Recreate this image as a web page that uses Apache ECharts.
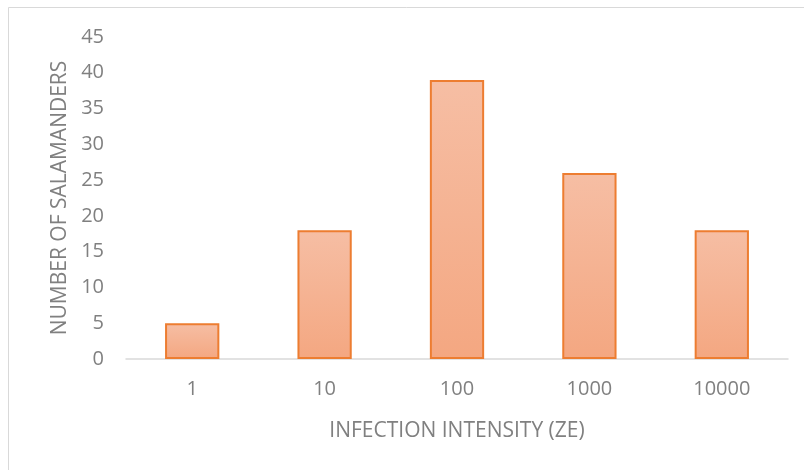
<!DOCTYPE html>
<html>
<head>
<meta charset="utf-8">
<script src="https://cdn.jsdelivr.net/npm/echarts@6/dist/echarts.min.js"></script>
<style>
  html, body { margin: 0; padding: 0; background: #fff; }
  #chart { width: 804px; height: 470px; }
</style>
</head>
<body>
<div id="chart"></div>
<script>
// Infection intensity classes (Bd zoospore equivalents) and salamander counts
const categories = ['1', '10', '100', '1000', '10000'];
const counts = [5, 18, 39, 26, 18];
const yTicks = { min: 0, max: 45, interval: 5 };

const textColor = '#808080';
const font = '"Open Sans", "Liberation Sans", sans-serif';

const chart = echarts.init(document.getElementById('chart'), null, { renderer: 'canvas' });
chart.setOption({
  backgroundColor: '#ffffff',
  animation: false,
  graphic: [{
    type: 'rect',
    shape: { x: 8.5, y: 7.5, width: 900, height: 600 },
    style: { fill: 'none', stroke: '#d9d9d9', lineWidth: 1 },
    silent: true
  }],
  grid: { left: 126, right: 16, top: 37, bottom: 111 },
  xAxis: {
    type: 'category',
    data: categories,
    name: 'INFECTION INTENSITY (ZE)',
    nameLocation: 'middle',
    nameGap: 62,
    nameTextStyle: { color: textColor, fontSize: 21, fontFamily: font },
    axisLine: { lineStyle: { color: '#d9d9d9', width: 1.5 } },
    axisTick: { show: false },
    axisLabel: { color: textColor, fontSize: 20, fontFamily: font, margin: 20 }
  },
  yAxis: {
    type: 'value',
    min: yTicks.min, max: yTicks.max, interval: yTicks.interval,
    name: 'NUMBER OF SALAMANDERS',
    nameLocation: 'middle',
    nameGap: 54,
    nameTextStyle: { color: textColor, fontSize: 21, fontFamily: font },
    axisLine: { show: false },
    axisTick: { show: false },
    splitLine: { show: false },
    axisLabel: { color: textColor, fontSize: 20, fontFamily: font, margin: 22 }
  },
  series: [{
    type: 'bar',
    data: counts,
    barWidth: '41%',
    itemStyle: {
      color: new echarts.graphic.LinearGradient(0, 0, 0, 1, [
        { offset: 0, color: '#f6bea4' },
        { offset: 1, color: '#f4a781' }
      ]),
      borderColor: '#ed7d31',
      borderWidth: 2
    }
  }]
});
</script>
</body>
</html>
